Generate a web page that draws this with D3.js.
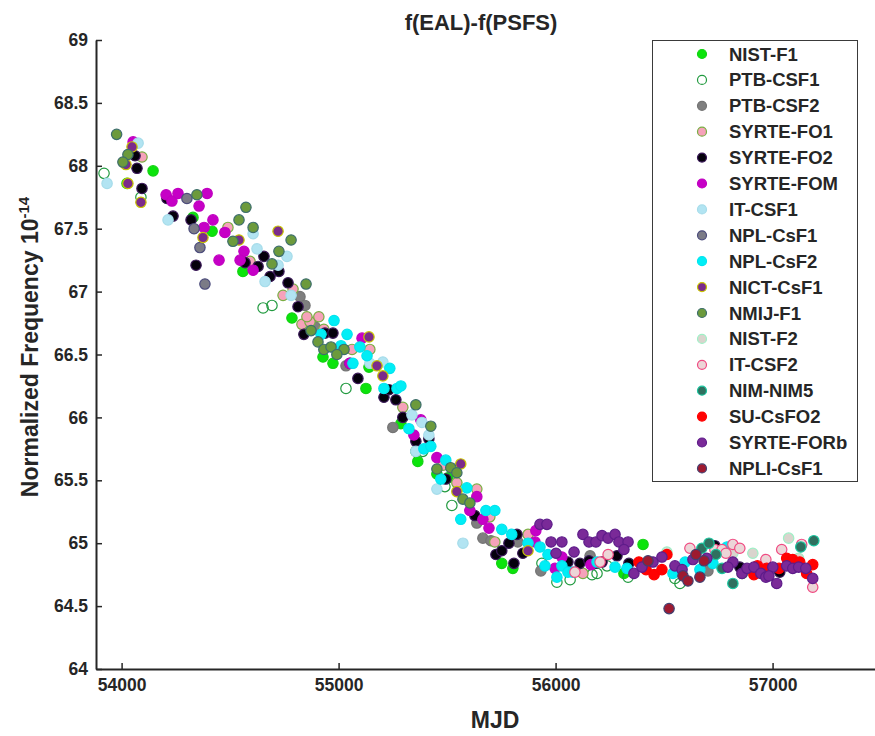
<!DOCTYPE html>
<html>
<head>
<meta charset="utf-8">
<script src="https://cdn.jsdelivr.net/npm/d3@7/dist/d3.min.js"></script>
<style>
body { margin: 0; background: white; }
text { font-family: "Liberation Sans", Arial, sans-serif; font-weight: bold; fill: #262626; }
</style>
</head>
<body>
<svg class="svgMain" width="875" height="736"></svg>
<script>
// Frequency offsets of each primary standard, [MJD, value x 1e-14].
const nistF1 = [[54145,67.96],[54025,67.86],[54329,67.59],[54417,67.48],[54559,67.16],[54785,66.79],[54928,66.48],[54974,66.43],[55140,66.40],[55126,66.23],[55287,65.95],[55365,65.65],[55453,65.55],[55504,65.52],[55752,64.84],[55803,64.80],[56315,64.76],[56403,64.99]];
const ptbCsf1 = [[53919,67.94],[54089,67.75],[54652,66.87],[54693,66.89],[55034,66.23],[55356,65.73],[55388,65.73],[55490,65.45],[55522,65.30],[55937,64.84],[56006,64.69],[56168,64.75],[56191,64.76],[56237,64.82],[56550,64.72],[56573,64.68],[56067,64.71],[56334,64.73],[56860,64.76]];
const ptbCsf2 = [[54822,66.96],[54845,66.89],[54891,66.72],[55034,66.41],[55250,65.92],[55637,65.16],[55665,65.04],[55702,65.02],[55826,65.01],[55932,64.78],[56159,64.90],[56702,64.78]];
const syrteFo1 = [[54094,68.07],[54490,67.51],[54592,67.24],[54744,66.97],[54790,67.02],[54831,66.74],[54868,66.76],[54909,66.80],[54854,66.80],[54932,66.70],[55062,66.54],[55144,66.54],[55296,66.08],[55481,65.62],[55545,65.48],[55637,65.43],[55697,65.21],[55720,65.01],[55873,65.07],[56126,64.76]];
const syrteFo2 = [[54062,68.08],[54071,67.98],[54094,67.82],[54209,67.74],[54237,67.60],[54320,67.57],[54343,67.21],[54569,67.23],[54629,67.20],[54656,67.28],[54684,67.12],[54725,67.16],[54767,67.07],[54813,66.88],[54840,66.66],[54937,66.67],[54974,66.67],[55052,66.43],[55089,66.31],[55209,66.16],[55232,66.22],[55264,66.14],[55296,66.00],[55356,65.81],[55416,65.83],[55494,65.51],[55628,65.22],[55725,64.91],[55752,64.94],[55785,65.00],[55808,64.84],[55822,65.07],[55849,64.92],[56057,64.85],[56112,64.84],[56154,64.86],[56182,64.84],[56214,64.85],[56283,64.90],[56338,64.84],[56734,64.98],[56849,64.81],[57033,64.77]];
const syrteFom = [[54053,68.19],[54205,67.77],[54232,67.72],[54260,67.78],[54394,67.78],[54357,67.68],[54380,67.51],[54421,67.57],[54476,67.47],[54449,67.25],[54564,67.32],[54546,67.25],[54606,67.17],[55108,66.63],[55052,66.43],[55379,65.98],[55347,65.86],[55453,65.68],[55637,65.37],[55605,65.26],[55665,65.19],[55693,65.12],[55909,65.10],[55905,65.01],[56029,64.89],[55997,64.80],[56163,64.83]];
const itCsf1 = [[54076,68.18],[53933,67.86],[54214,67.57],[54606,67.46],[54624,67.34],[54721,67.21],[54762,67.28],[54661,67.08],[54781,66.97],[55144,66.43],[55204,66.44],[55338,66.02],[55384,65.96],[55416,65.86],[55356,65.73],[55453,65.43],[55573,65.00]];
const nplCsf1 = [[54301,67.74],[54334,67.50],[54361,67.35],[54384,67.06]];
const nplCsf2 = [[54979,66.77],[55039,66.66],[54919,66.66],[55011,66.57],[55098,66.56],[55131,66.49],[55066,66.43],[55236,66.39],[55209,66.23],[55269,66.23],[55287,66.25],[55324,65.91],[55393,65.75],[55425,65.77],[55494,65.66],[55471,65.51],[55591,65.44],[55563,65.19],[55679,65.26],[55720,65.26],[55752,65.11],[55798,65.07],[55873,65.00],[55928,64.97],[55965,64.91],[55951,64.82],[56029,64.82],[56006,64.73],[56057,64.77],[56080,64.77],[56191,64.85],[56274,64.81],[56329,64.80],[56541,64.76],[56597,64.85],[56725,64.84],[56665,64.79],[56790,64.97]];
const nictCsf1 = [[54048,68.15],[54020,68.01],[54029,67.86],[54089,67.71],[54375,67.43],[54541,67.41],[54721,67.48],[55140,66.64],[55177,66.41],[55204,66.33],[55563,65.63],[55545,65.41],[55873,64.94]];
const nmijF1 = [[53977,68.25],[54029,68.09],[54006,68.03],[54347,67.77],[54573,67.67],[54541,67.57],[54606,67.51],[54513,67.40],[54781,67.41],[54725,67.32],[54693,67.22],[54850,67.06],[54873,66.69],[54905,66.60],[54932,66.54],[54965,66.56],[55025,66.54],[54992,66.50],[55356,66.10],[55425,65.93],[55453,65.59],[55517,65.60],[55545,65.56],[55573,65.35],[55605,65.32]];
const nistF2 = [[56817,64.92],[56909,64.92],[57074,65.04],[56513,64.93],[57120,64.88]];
const itCsf2 = [[56089,64.77],[56242,64.91],[56205,64.85],[56619,64.96],[56734,64.95],[56767,64.95],[56785,64.92],[56817,64.99],[56849,64.96],[56969,64.87],[57042,64.95],[57134,64.99],[57185,64.65]];
const nimNim5 = [[56674,64.96],[56707,65.00],[56739,64.91],[56767,64.80],[56817,64.68],[57130,64.97],[57190,65.02]];
const suCsfo2 = [[56384,64.85],[56417,64.79],[56454,64.75],[56490,64.79],[56513,64.91],[56914,64.75],[56973,64.80],[57065,64.88],[57093,64.87],[57125,64.85],[57157,64.76],[57185,64.83],[56930,64.82],[57030,64.80]];
const syrteForb = [[55928,65.15],[55960,65.15],[55979,65.01],[56029,65.01],[56002,64.92],[56085,64.93],[56126,65.07],[56154,65.01],[56186,65.01],[56214,65.06],[56242,65.04],[56274,65.07],[56292,65.01],[56334,65.01],[56315,64.95],[56361,64.76],[56398,64.81],[56449,64.85],[56490,64.89],[56550,64.82],[56583,64.79],[56633,64.87],[56697,64.88],[56817,64.85],[56794,64.81],[56859,64.76],[56882,64.80],[56914,64.81],[56946,64.76],[56969,64.73],[57001,64.81],[56983,64.74],[57019,64.68],[57065,64.82],[57093,64.80],[57120,64.81],[57153,64.80],[57185,64.72]];
const npliCsf1 = [[56426,64.86],[56523,64.48],[56647,64.91],[56684,64.86],[56665,64.73],[56587,64.74],[56610,64.70]];

const seriesNames = ["NIST-F1", "PTB-CSF1", "PTB-CSF2", "SYRTE-FO1", "SYRTE-FO2", "SYRTE-FOM", "IT-CSF1", "NPL-CsF1", "NPL-CsF2",
    "NICT-CsF1", "NMIJ-F1", "NIST-F2", "IT-CSF2", "NIM-NIM5", "SU-CsFO2", "SYRTE-FORb", "NPLI-CsF1"];
const seriesData = [nistF1, ptbCsf1, ptbCsf2, syrteFo1, syrteFo2, syrteFom, itCsf1, nplCsf1, nplCsf2,
    nictCsf1, nmijF1, nistF2, itCsf2, nimNim5, suCsfo2, syrteForb, npliCsf1];
const xTicks = [54000, 55000, 56000, 57000];
const yTicks = [64, 64.5, 65, 65.5, 66, 66.5, 67, 67.5, 68, 68.5, 69];

// Marker face and edge colours, in legend order.
const faceColors = ["#0be40b", "none", "#7f7f7f", "#f6a2ba", "#05000c", "#c600c6", "#b2e4f2", "#7b7b86", "#00eef6",
    "#7b2b8b", "#6c9a3c", "#d9d4cd", "#ecd5d7", "#2f705f", "#ff0202", "#7a2a98", "#9e1a30"];
const edgeColors = ["#14d214", "#219a3f", "#747474", "#79ae42", "#3a1858", "#c000c0", "#a6dcea", "#4c4c7c", "#00e4ee",
    "#c9c600", "#3d6e6c", "#9ef0c6", "#f04a82", "#1ac6a0", "#ff0000", "#5e1c8a", "#424070"];

let svgMain = d3.select(".svgMain");
let plotLeft = 96, plotRight = 875, plotTop = 40, plotBottom = 669;

let xScale = d3.scaleLinear().domain([53882, 57472]).range([plotLeft, plotRight]);
let yScale = d3.scaleLinear().domain([64, 69]).range([plotBottom, plotTop]);

// Draw the points, one series at a time so later ones sit on top.
seriesData.forEach(function (points, i) {
    svgMain.append("g").selectAll("circle")
        .data(points)
        .join("circle")
        .attr("cx", d => xScale(d[0])).attr("cy", d => yScale(d[1]))
        .attr("r", 5.2)
        .attr("fill", faceColors[i])
        .attr("stroke", edgeColors[i]).attr("stroke-width", 1.2);
});

// Axes with the ticks pointing inwards.
let xAxis = d3.axisBottom(xScale).tickValues(xTicks).tickFormat(d3.format("d"))
    .tickSizeInner(-6).tickSizeOuter(0).tickPadding(10);
let yAxis = d3.axisLeft(yScale).tickValues(yTicks).tickFormat(d => d3.format("")(d))
    .tickSizeInner(-6).tickSizeOuter(0).tickPadding(8);

let gx = svgMain.append("g").attr("transform", "translate(0," + plotBottom + ")").call(xAxis);
let gy = svgMain.append("g").attr("transform", "translate(" + plotLeft + ",0)").call(yAxis);
[gx, gy].forEach(function (g) {
    g.select(".domain").attr("stroke", "#262626").attr("stroke-width", 2);
    g.selectAll(".tick line").attr("stroke", "#262626").attr("stroke-width", 1.5);
    g.selectAll(".tick text").attr("font-size", 17.5).attr("font-family", null).attr("fill", "#262626");
});

// Title and axis labels.
svgMain.append("text")
    .text("f(EAL)-f(PSFS)")
    .attr("x", 481).attr("y", 30)
    .attr("text-anchor", "middle").attr("font-size", 22);
svgMain.append("text")
    .text("MJD")
    .attr("x", 495).attr("y", 728)
    .attr("text-anchor", "middle").attr("font-size", 23);
let yLabel = svgMain.append("text")
    .attr("transform", "translate(38,347) rotate(-90)")
    .attr("text-anchor", "middle").attr("font-size", 23);
yLabel.append("tspan").text("Normalized Frequency 10");
yLabel.append("tspan").text("-14").attr("font-size", 15).attr("dy", -9);

// Legend box with one row per standard.
let legend = svgMain.append("g");
legend.append("rect")
    .attr("x", 652.5).attr("y", 40.5).attr("width", 205).attr("height", 441)
    .attr("fill", "white").attr("stroke", "#3a3a3a").attr("stroke-width", 1);
seriesNames.forEach(function (name, i) {
    let rowY = 54 + i * 25.9;
    legend.append("circle")
        .attr("cx", 702).attr("cy", rowY).attr("r", 4.5)
        .attr("fill", faceColors[i] === "none" ? "white" : faceColors[i])
        .attr("stroke", edgeColors[i]).attr("stroke-width", 1.2);
    legend.append("text")
        .text(name)
        .attr("x", 729).attr("y", rowY + 6.5)
        .attr("font-size", 18.5).attr("fill", "black");
});
</script>
</body>
</html>
